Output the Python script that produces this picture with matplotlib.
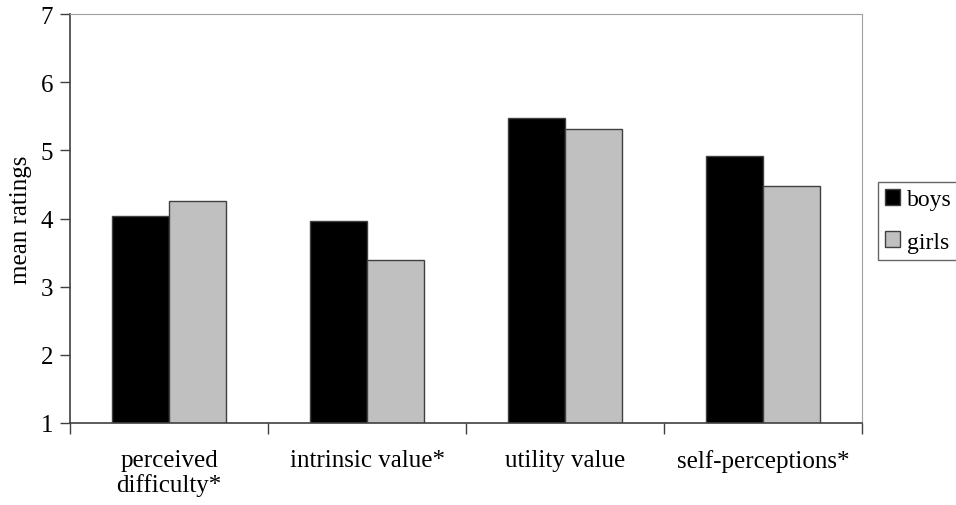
import matplotlib.pyplot as plt
import numpy as np

plt.rcParams['font.family'] = ['Liberation Serif', 'DejaVu Serif']

# mean ratings by category
categories = ["perceived\ndifficulty*", "intrinsic value*", "utility value", "self-perceptions*"]
boys = [4.04, 3.97, 5.48, 4.91]
girls = [4.26, 3.39, 5.32, 4.48]

x = np.arange(len(categories))
w = 0.286

fig = plt.figure(figsize=(9.56, 5.06), dpi=100)
ax = fig.add_axes([70 / 956, 1 - 424 / 506, 792 / 956, 409 / 506])

ax.bar(x - w / 2, boys, w, color="black", edgecolor="#404040", lw=1, label="boys")
ax.bar(x + w / 2, girls, w, color="#c0c0c0", edgecolor="#404040", lw=1, label="girls")

ax.set_ylim(1, 7)
ax.set_xlim(-0.5, len(categories) - 0.5)
ax.set_yticks(range(1, 8))
ax.set_xticks(np.arange(-0.5, len(categories)))
ax.set_xticklabels([])
ax.tick_params(axis="x", length=8, direction="out", width=1, color="#404040")
ax.tick_params(axis="y", length=7, direction="out", width=1, color="#404040", labelsize=18, pad=5)

# category names under each group
for i, lab in enumerate(categories):
    ax.text(i, -0.064, lab, transform=ax.get_xaxis_transform(), ha="center", va="top",
            fontsize=18, linespacing=1.1)

ax.set_ylabel("mean ratings", fontsize=18, labelpad=6)

for s in ["top", "right"]:
    ax.spines[s].set_color("#a0a0a0")
for s in ["left", "bottom"]:
    ax.spines[s].set_color("#404040")
    ax.spines[s].set_linewidth(1.2)

leg = fig.legend(loc="upper left", bbox_to_anchor=(878 / 956, 1 - 183 / 506), fontsize=17,
                 frameon=True, fancybox=False, edgecolor="#404040", handlelength=0.64,
                 handleheight=0.64, handletextpad=0.3, borderpad=0.3, labelspacing=0.9,
                 borderaxespad=0)
leg.get_frame().set_linewidth(1)

fig.savefig("out.png", dpi=100)
